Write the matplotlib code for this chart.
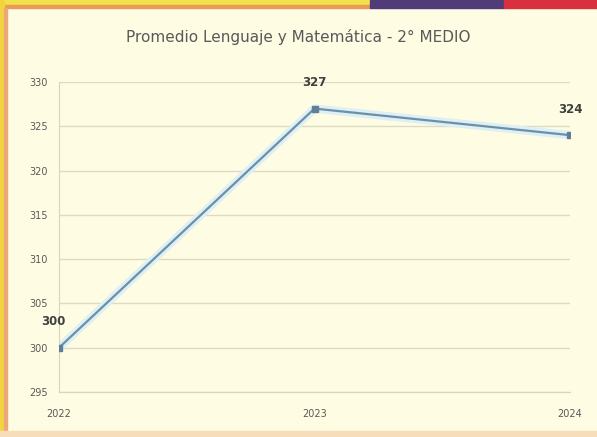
import matplotlib.pyplot as plt
from matplotlib.patches import Rectangle

# datos
years = ['2022', '2023', '2024']
promedio = [300, 327, 324]
y_ticks = [295, 300, 305, 310, 315, 320, 325, 330]

fig = plt.figure(figsize=(5.97, 4.37), dpi=100)
fig.patch.set_facecolor('#FEFCE2')

# bordes de la captura
fig.patches.append(Rectangle((0, 0.988), 0.62, 0.012, transform=fig.transFigure,
                             color='#F2E24A', zorder=0))
fig.patches.append(Rectangle((0, 0.981), 0.62, 0.008, transform=fig.transFigure,
                             color='#E99A55', zorder=0))
fig.patches.append(Rectangle((0.62, 0.981), 0.225, 0.019, transform=fig.transFigure,
                             color='#4F3C78', zorder=0))
fig.patches.append(Rectangle((0.845, 0.981), 0.155, 0.019, transform=fig.transFigure,
                             color='#D8303E', zorder=0))
fig.patches.append(Rectangle((0, 0), 0.006, 1, transform=fig.transFigure,
                             color='#F2D340', zorder=0))
fig.patches.append(Rectangle((0.006, 0), 0.005, 0.981, transform=fig.transFigure,
                             color='#EDA878', zorder=0))
fig.patches.append(Rectangle((0, 0), 1, 0.014, transform=fig.transFigure,
                             color='#F8DDBB', zorder=0))

ax = fig.add_axes([59 / 597, (437 - 392) / 437, (570 - 59) / 597, (392 - 82) / 437])
ax.set_facecolor('#FEFCE2')

x = range(len(years))
ax.plot(x, promedio, color='#DDF0F6', linewidth=6, zorder=2, solid_capstyle='round')
ax.plot(x, promedio, color='#6E90A6', linewidth=1.6, marker='s', markersize=5,
        markerfacecolor='#5F7F98', markeredgecolor='#5F7F98', zorder=3)

ax.set_xlim(0, 2)
ax.set_ylim(295, 330)
ax.set_yticks(y_ticks)
ax.set_xticks(list(x))
ax.set_xticklabels(years)
ax.grid(axis='y', color='#DCDBC4', linewidth=1)
ax.set_axisbelow(True)

for s in ['top', 'right']:
    ax.spines[s].set_visible(False)
ax.spines['left'].set_color('#D6D5C0')
ax.spines['bottom'].set_color('#D6D5C0')
ax.tick_params(length=0, labelsize=7, colors='#595959', pad=8)
ax.tick_params(axis='x', pad=12)

# etiquetas de datos
offsets = [(-4, 14), (0, 14), (0, 14)]
for xi, v, off in zip(x, promedio, offsets):
    ax.annotate(str(v), (xi, v), xytext=off, textcoords='offset points',
                ha='center', va='bottom', fontsize=8.5, fontweight='bold', color='#404040')

fig.text(0.5, 0.915, 'Promedio Lenguaje y Matemática - 2° MEDIO', ha='center',
         va='center', fontsize=11, color='#595959')

plt.savefig('out.png', dpi=100, facecolor=fig.get_facecolor())
